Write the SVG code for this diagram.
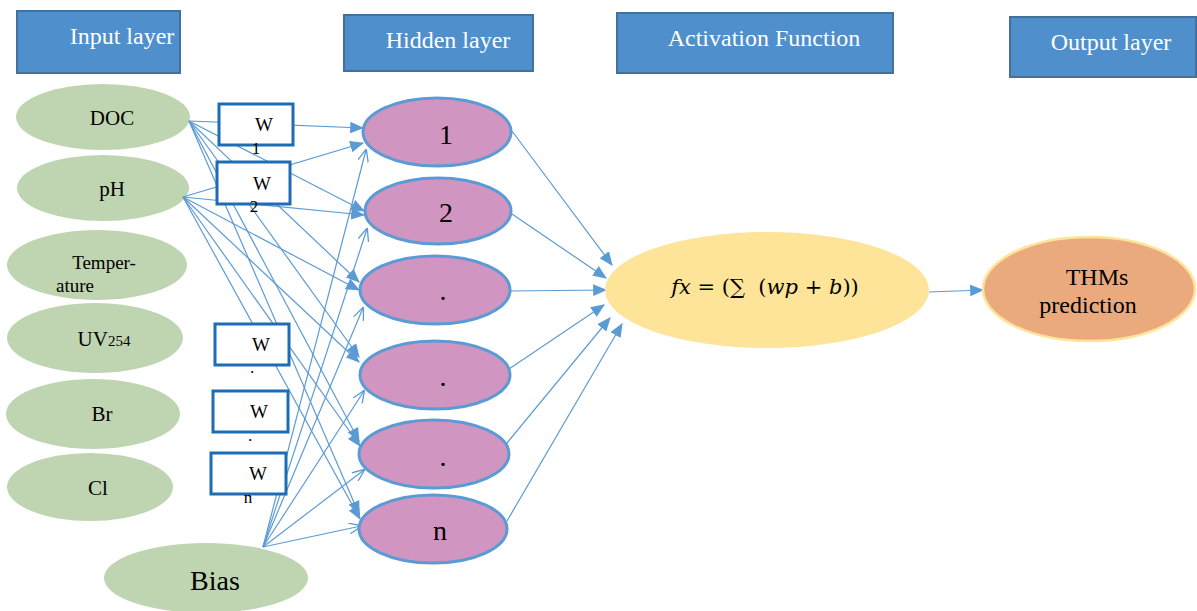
<svg xmlns="http://www.w3.org/2000/svg" width="1197" height="611" viewBox="0 0 1197 611">
  <defs>
    <marker id="arrow" viewBox="0 0 12 10" refX="11" refY="5" markerWidth="14" markerHeight="12" markerUnits="userSpaceOnUse" orient="auto">
      <path d="M0,0 L12,5 L0,10 z" fill="#5b9bd5"/>
    </marker>
    <marker id="open" viewBox="0 0 12 10" refX="11" refY="5" markerWidth="13" markerHeight="11" markerUnits="userSpaceOnUse" orient="auto">
      <path d="M0,0 L12,5 L0,10" fill="none" stroke="#5b9bd5" stroke-width="1.2"/>
    </marker>
  </defs>
  <style>
    .hdr rect { fill: #4f8fcc; stroke: #41719c; stroke-width: 2; }
    .hdr text { fill: #ffffff; font-family: "Liberation Serif", serif; font-size: 24px; text-anchor: middle; }
    .inp ellipse { fill: #bfd5b1; }
    .lbl { font-family: "Liberation Serif", serif; fill: #000; text-anchor: middle; }
    .hid ellipse { fill: #d095c0; stroke: #5b9bd5; stroke-width: 3; }
    .wbox rect { fill: #ffffff; stroke: #1d6cb5; stroke-width: 3; }
    .conn line { stroke: #5b9bd5; stroke-width: 1.2; }
    .conn .in { marker-end: url(#arrow); }
    .conn .bias { marker-end: url(#open); }
  </style>

  <!-- layer headers -->
  <g id="hdr-input" class="hdr"><rect x="17" y="11" width="163" height="62"/><text x="122" y="44">Input layer</text></g>
  <g id="hdr-hidden" class="hdr"><rect x="344" y="15" width="189" height="56"/><text x="448" y="48">Hidden layer</text></g>
  <g id="hdr-activation" class="hdr"><rect x="617" y="13" width="276" height="60"/><text x="764" y="46">Activation Function</text></g>
  <g id="hdr-output" class="hdr"><rect x="1010" y="17" width="186" height="60"/><text x="1111" y="50">Output layer</text></g>

  <!-- input nodes -->
  <g id="in-doc" class="inp"><ellipse cx="103" cy="117" rx="87" ry="33"/><text class="lbl" x="112" y="125" font-size="21">DOC</text></g>
  <g id="in-ph" class="inp"><ellipse cx="103" cy="188" rx="86" ry="33"/><text class="lbl" x="112" y="196" font-size="21">pH</text></g>
  <g id="in-temp" class="inp"><ellipse cx="97" cy="265" rx="90" ry="35"/>
    <text class="lbl" x="104" y="269" font-size="19">Temper-</text>
    <text class="lbl" x="75" y="292" font-size="19">ature</text></g>
  <g id="in-uv" class="inp"><ellipse cx="95" cy="338" rx="88" ry="35"/><text class="lbl" x="104" y="346" font-size="21">UV<tspan font-size="15">254</tspan></text></g>
  <g id="in-br" class="inp"><ellipse cx="93" cy="414" rx="87" ry="35"/><text class="lbl" x="102" y="421" font-size="21">Br</text></g>
  <g id="in-cl" class="inp"><ellipse cx="90" cy="487" rx="83" ry="34"/><text class="lbl" x="98" y="495" font-size="21">Cl</text></g>
  <g id="in-bias" class="inp"><ellipse cx="206" cy="578" rx="102" ry="35"/><text class="lbl" x="215" y="590" font-size="28">Bias</text></g>

  <!-- connectors -->
  <g id="connectors" class="conn">
    <!-- DOC to hidden -->
    <line class="in" x1="189" y1="121" x2="363" y2="128"/>
    <line class="in" x1="189" y1="121" x2="364" y2="211"/>
    <line class="in" x1="189" y1="121" x2="359" y2="282"/>
    <line class="in" x1="189" y1="121" x2="359" y2="357"/>
    <line class="in" x1="189" y1="121" x2="359" y2="441"/>
    <line class="in" x1="189" y1="121" x2="359" y2="514"/>
    <!-- pH to hidden -->
    <line class="in" x1="183" y1="197" x2="363" y2="143"/>
    <line class="in" x1="183" y1="197" x2="364" y2="215"/>
    <line class="in" x1="183" y1="197" x2="359" y2="290"/>
    <line class="in" x1="183" y1="197" x2="359" y2="362"/>
    <line class="in" x1="183" y1="197" x2="360" y2="446"/>
    <line class="in" x1="183" y1="197" x2="360" y2="519"/>
    <!-- bias to hidden -->
    <line class="bias" x1="263" y1="547" x2="366" y2="150"/>
    <line class="bias" x1="263" y1="547" x2="367" y2="229"/>
    <line class="bias" x1="263" y1="547" x2="363" y2="308"/>
    <line class="bias" x1="263" y1="547" x2="364" y2="391"/>
    <line class="bias" x1="263" y1="547" x2="364" y2="470"/>
    <line class="bias" x1="263" y1="547" x2="361" y2="526"/>
    <!-- hidden to activation -->
    <line class="in" x1="512" y1="131" x2="612" y2="265"/>
    <line class="in" x1="512" y1="214" x2="606" y2="278"/>
    <line class="in" x1="510" y1="291" x2="606" y2="290"/>
    <line class="in" x1="509" y1="369" x2="604" y2="305"/>
    <line class="in" x1="507" y1="443" x2="610" y2="318"/>
    <line class="in" x1="507" y1="521" x2="622" y2="324"/>
    <!-- activation to output -->
    <line class="in" x1="929" y1="292" x2="983" y2="290"/>
  </g>

  <!-- weight boxes -->
  <g id="w1" class="wbox"><rect x="219" y="104" width="74" height="41"/>
    <text class="lbl" x="264" y="131" font-size="19">W</text><text class="lbl" x="256" y="154" font-size="17">1</text></g>
  <g id="w2" class="wbox"><rect x="217" y="162" width="73" height="42"/>
    <text class="lbl" x="262" y="190" font-size="19">W</text><text class="lbl" x="254" y="212" font-size="17">2</text></g>
  <g id="w3" class="wbox"><rect x="215" y="324" width="74" height="41"/>
    <text class="lbl" x="261" y="351" font-size="19">W</text><text class="lbl" x="252" y="373" font-size="17">.</text></g>
  <g id="w4" class="wbox"><rect x="213" y="391" width="75" height="41"/>
    <text class="lbl" x="259" y="418" font-size="19">W</text><text class="lbl" x="250" y="441" font-size="17">.</text></g>
  <g id="wn" class="wbox"><rect x="211" y="453" width="75" height="41"/>
    <text class="lbl" x="258" y="480" font-size="19">W</text><text class="lbl" x="248" y="503" font-size="17">n</text></g>

  <!-- hidden nodes -->
  <g id="h1" class="hid"><ellipse cx="437" cy="132" rx="74" ry="34"/><text class="lbl" x="446" y="144" font-size="28">1</text></g>
  <g id="h2" class="hid"><ellipse cx="438" cy="211" rx="73" ry="33"/><text class="lbl" x="446" y="222" font-size="28">2</text></g>
  <g id="h3" class="hid"><ellipse cx="435" cy="290" rx="75" ry="34"/><text class="lbl" x="443" y="300" font-size="28">.</text></g>
  <g id="h4" class="hid"><ellipse cx="435" cy="375" rx="75" ry="34"/><text class="lbl" x="443" y="386" font-size="28">.</text></g>
  <g id="h5" class="hid"><ellipse cx="434" cy="454" rx="75" ry="34"/><text class="lbl" x="443" y="466" font-size="28">.</text></g>
  <g id="hn" class="hid"><ellipse cx="433" cy="529" rx="74" ry="34"/><text class="lbl" x="440" y="540" font-size="28">n</text></g>

  <!-- activation node -->
  <g id="activation"><ellipse cx="767" cy="290" rx="162" ry="58" fill="#fde499"/>
    <text x="765" y="294" font-family="'DejaVu Serif', 'Liberation Serif', serif" font-size="21" text-anchor="middle" fill="#000"><tspan font-style="italic">fx</tspan> = (∑&#160;&#160;(<tspan font-style="italic">wp</tspan> + <tspan font-style="italic">b</tspan>))</text></g>

  <!-- output node -->
  <g id="output"><ellipse cx="1089" cy="289" rx="106" ry="52" fill="#eaaa7e" stroke="#fde499" stroke-width="2.5"/>
    <text class="lbl" x="1097" y="285" font-size="24">THMs</text>
    <text class="lbl" x="1088" y="313" font-size="24">prediction</text></g>
</svg>
